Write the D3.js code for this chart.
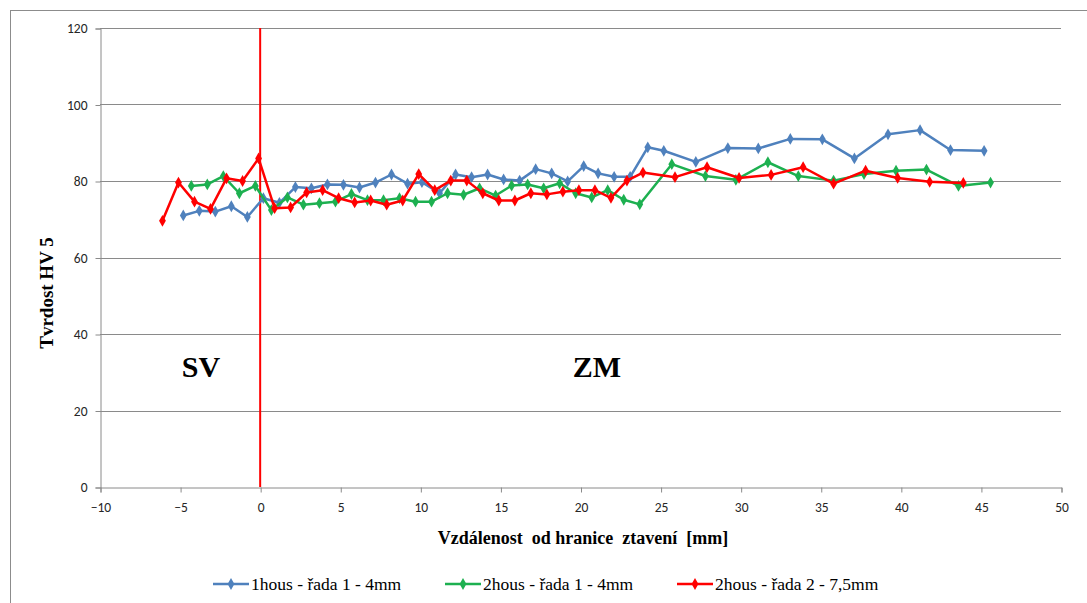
<!DOCTYPE html>
<html>
<head>
<meta charset="utf-8">
<script src="https://cdn.jsdelivr.net/npm/d3@7"></script>
<style>
  body { margin: 0; background: #fff; }
  svg { display: block; }
  .serif { font-family: "Liberation Serif", "Times New Roman", serif; white-space: pre; }
</style>
</head>
<body>
<svg id="chart" width="1087" height="603"></svg>
<script>
// tick values
var xTicks = [-10, -5, 0, 5, 10, 15, 20, 25, 30, 35, 40, 45, 50];
var yTicks = [0, 20, 40, 60, 80, 100, 120];

// 1hous - řada 1 - 4mm
var blueX = [-4.8, -3.8, -2.8, -1.8, -0.8, 0.2, 1.2, 2.2, 3.2, 4.2, 5.2, 6.2, 7.2, 8.2, 9.2, 10.1, 11.2, 12.2, 13.2, 14.2, 15.2, 16.2, 17.2, 18.2, 19.2, 20.2, 21.1, 22.1, 23.1, 24.2, 25.2, 27.2, 29.2, 31.1, 33.1, 35.1, 37.1, 39.2, 41.2, 43.1, 45.2];
var blueY = [71.0, 72.2, 72.0, 73.4, 70.6, 75.5, 74.3, 78.4, 78.1, 79.1, 79.0, 78.3, 79.6, 81.7, 79.3, 79.7, 76.8, 81.7, 81.0, 81.7, 80.4, 80.1, 83.1, 82.0, 79.9, 83.9, 82.0, 81.1, 81.1, 88.8, 87.9, 85.0, 88.6, 88.5, 91.0, 90.9, 85.9, 92.2, 93.3, 88.1, 87.9];

// 2hous - řada 1 - 4mm
var greenX = [-4.3, -3.3, -2.3, -1.3, -0.3, 0.7, 1.7, 2.7, 3.7, 4.7, 5.7, 6.7, 7.7, 8.7, 9.7, 10.7, 11.7, 12.7, 13.7, 14.7, 15.7, 16.7, 17.7, 18.7, 19.7, 20.7, 21.7, 22.7, 23.7, 25.7, 27.8, 29.7, 31.7, 33.6, 35.8, 37.7, 39.7, 41.6, 43.6, 45.6];
var greenY = [78.7, 79.1, 81.3, 76.8, 78.7, 72.4, 75.7, 73.8, 74.2, 74.6, 76.6, 75.0, 75.0, 75.5, 74.6, 74.6, 76.8, 76.4, 78.1, 76.2, 78.8, 79.1, 78.1, 79.4, 76.8, 75.7, 77.6, 75.1, 73.9, 84.4, 81.3, 80.3, 84.9, 81.3, 80.1, 81.8, 82.7, 83.0, 78.7, 79.6];

// 2hous - řada 2 - 7,5mm
var redX = [-6.1, -5.1, -4.1, -3.1, -2.1, -1.1, -0.1, 0.9, 1.9, 2.9, 3.9, 4.9, 5.9, 6.9, 7.9, 8.9, 9.9, 10.9, 11.9, 12.9, 13.9, 14.9, 15.9, 16.9, 17.9, 18.9, 19.9, 20.9, 21.9, 22.9, 23.9, 25.9, 27.9, 29.9, 31.9, 33.9, 35.8, 37.8, 39.8, 41.8, 43.9];
var redY = [69.6, 79.6, 74.6, 72.7, 80.7, 80.0, 85.9, 72.9, 73.1, 77.0, 77.6, 75.5, 74.4, 74.9, 73.8, 74.9, 81.8, 77.6, 80.1, 80.1, 76.8, 74.9, 74.9, 76.8, 76.5, 77.2, 77.6, 77.6, 75.6, 80.1, 82.2, 81.0, 83.6, 80.8, 81.6, 83.6, 79.3, 82.7, 80.8, 79.8, 79.5];

var series = [
  {name: "1hous - řada 1 - 4mm", color: "#4f81bd", xs: blueX, ys: blueY},
  {name: "2hous - řada 1 - 4mm", color: "#1db050", xs: greenX, ys: greenY},
  {name: "2hous - řada 2 - 7,5mm", color: "#ff0000", xs: redX, ys: redY}
];

var svg = d3.select("#chart"),
    plotL = 100, plotR = 1061, plotT = 28, plotB = 487;

var x = d3.scaleLinear().domain([-10, 50]).range([plotL, plotR]);
var y = d3.scaleLinear().domain([0, 120]).range([plotB, plotT]);

// outer frame
svg.append("rect")
    .attr("x", 10.5).attr("y", 10.5)
    .attr("width", 1100).attr("height", 620)
    .attr("fill", "none").attr("stroke", "#8c8c8c");

// horizontal gridlines
svg.append("g").selectAll("line")
  .data(yTicks.filter(function(d) { return d > 0; }))
  .enter().append("line")
    .attr("x1", plotL).attr("x2", plotR)
    .attr("y1", function(d) { return Math.round(y(d)) + 0.5; })
    .attr("y2", function(d) { return Math.round(y(d)) + 0.5; })
    .attr("stroke", "#8a8a8a").attr("stroke-width", 1);

// axes
var yAxis = svg.append("g")
    .attr("transform", "translate(" + (plotL + 0.5) + ",0.5)")
    .call(d3.axisLeft(y).tickValues(yTicks).tickSize(5).tickPadding(8));
var xAxis = svg.append("g")
    .attr("transform", "translate(0.5," + (plotB + 0.5) + ")")
    .call(d3.axisBottom(x).tickValues(xTicks).tickSize(5).tickPadding(10));

[yAxis, xAxis].forEach(function(a) {
  a.select(".domain").attr("stroke", "#8a8a8a");
  a.selectAll(".tick line").attr("stroke", "#8a8a8a");
  a.selectAll(".tick text")
    .attr("fill", "#262626")
    .style("font-family", "Carlito, 'Open Sans', sans-serif")
    .style("font-size", "13.5px");
});

// boundary line at x = 0
svg.append("line")
    .attr("x1", x(0)).attr("x2", x(0))
    .attr("y1", y(120)).attr("y2", y(0))
    .attr("stroke", "#ff0000").attr("stroke-width", 2);

// series
var line = d3.line()
    .x(function(d) { return x(d[0]); })
    .y(function(d) { return y(d[1]); });
var diamond = d3.symbol().type(d3.symbolDiamond).size(40);

series.forEach(function(s) {
  var pts = s.xs.map(function(v, i) { return [v, s.ys[i]]; });
  var g = svg.append("g");
  g.append("path")
      .datum(pts)
      .attr("d", line)
      .attr("fill", "none")
      .attr("stroke", s.color)
      .attr("stroke-width", 2.5)
      .attr("stroke-linejoin", "round");
  g.selectAll("path.pt")
    .data(pts)
    .enter().append("path")
      .attr("class", "pt")
      .attr("d", diamond)
      .attr("transform", function(d) { return "translate(" + x(d[0]) + "," + y(d[1]) + ")"; })
      .attr("fill", s.color);
});

// zone labels
svg.append("text")
    .attr("class", "serif")
    .attr("x", 201).attr("y", 377)
    .attr("text-anchor", "middle")
    .style("font-weight", "bold").style("font-size", "30px")
    .text("SV");
svg.append("text")
    .attr("class", "serif")
    .attr("x", 597).attr("y", 377)
    .attr("text-anchor", "middle")
    .style("font-weight", "bold").style("font-size", "30px")
    .text("ZM");

// axis titles
svg.append("text")
    .attr("class", "serif")
    .attr("transform", "translate(53,293) rotate(-90)")
    .attr("text-anchor", "middle")
    .style("font-weight", "bold").style("font-size", "19px")
    .text("Tvrdost HV 5");
svg.append("text")
    .attr("class", "serif")
    .attr("x", 583).attr("y", 544)
    .attr("text-anchor", "middle")
    .style("font-weight", "bold").style("font-size", "18px")
    .text("Vzdálenost  od hranice  ztavení  [mm]");

// legend
var legendX = [213, 445, 677];
series.forEach(function(s, i) {
  var lg = svg.append("g").attr("transform", "translate(" + legendX[i] + ",584)");
  lg.append("line")
      .attr("x1", 0).attr("x2", 36)
      .attr("stroke", s.color).attr("stroke-width", 2.5);
  lg.append("path")
      .attr("d", diamond)
      .attr("transform", "translate(18,0)")
      .attr("fill", s.color);
  lg.append("text")
      .attr("class", "serif")
      .attr("x", 38).attr("y", 6)
      .style("font-size", "17.5px")
      .text(s.name);
});
</script>
</body>
</html>
